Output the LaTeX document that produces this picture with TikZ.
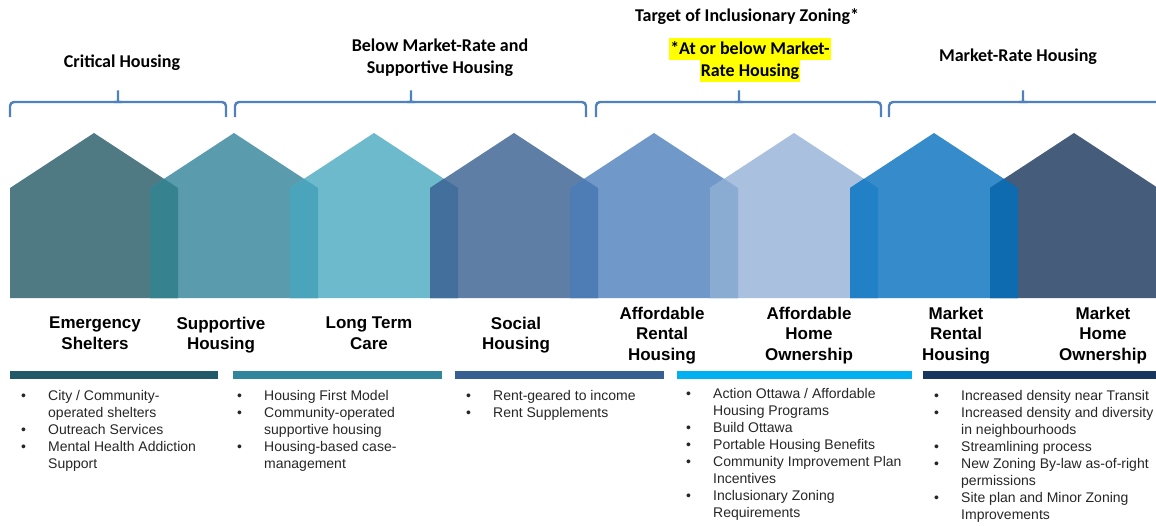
\documentclass[tikz,border=0pt]{standalone}
\usepackage{fontspec}
\setmainfont{Liberation Sans}
\newfontfamily\carlito{Carlito}
\usepackage{tikz}

\definecolor{braceblue}{HTML}{4F81BD}
\definecolor{hlyellow}{HTML}{FFFF00}
\definecolor{listgrey}{HTML}{262626}
\definecolor{houseA}{HTML}{4F7A84}
\definecolor{houseB}{HTML}{5A9BAE}
\definecolor{houseC}{HTML}{6EBACD}
\definecolor{houseD}{HTML}{5F7EA5}
\definecolor{houseE}{HTML}{7098C9}
\definecolor{houseF}{HTML}{A9C0DE}
\definecolor{houseG}{HTML}{368CCB}
\definecolor{houseH}{HTML}{455D7A}
\definecolor{overAB}{HTML}{37828F}
\definecolor{overBC}{HTML}{4AA4BB}
\definecolor{overCD}{HTML}{426F9B}
\definecolor{overDE}{HTML}{4E7DB6}
\definecolor{overEF}{HTML}{8AACD3}
\definecolor{overFG}{HTML}{2280C6}
\definecolor{overGH}{HTML}{0F6BAF}
\definecolor{barA}{HTML}{215968}
\definecolor{barB}{HTML}{31859C}
\definecolor{barC}{HTML}{376092}
\definecolor{barD}{HTML}{00B0F0}
\definecolor{barE}{HTML}{17375E}

\newcommand{\hilite}[1]{{\setlength{\fboxsep}{1pt}\colorbox{hlyellow}{\rule[-5pt]{0pt}{20pt}#1}}}

\begin{document}
\begin{tikzpicture}[x=1pt, y=-1pt,
    brace/.style={draw=braceblue, line width=2.4pt, rounded corners=4pt},
    group/.style={font=\carlito\bfseries\fontsize{18}{22}\selectfont, align=center, inner sep=0pt, anchor=north},
    kind/.style={font=\bfseries\fontsize{17}{20.5}\selectfont, align=center, inner sep=0pt, anchor=north},
    items/.style={font=\fontsize{14}{17}\selectfont, text=listgrey, inner sep=0pt, anchor=base west}]
    \useasboundingbox (0,0) rectangle (1156,525);

    % houses
    \fill[houseA] (10,298) -- (10,188) -- (94,133) -- (178,188) -- (178,298) -- cycle;
    \fill[houseB] (150,298) -- (150,188) -- (234,133) -- (318,188) -- (318,298) -- cycle;
    \fill[houseC] (290,298) -- (290,188) -- (374,133) -- (458,188) -- (458,298) -- cycle;
    \fill[houseD] (430,298) -- (430,188) -- (514,133) -- (598,188) -- (598,298) -- cycle;
    \fill[houseE] (570,298) -- (570,188) -- (654,133) -- (738,188) -- (738,298) -- cycle;
    \fill[houseF] (710,298) -- (710,188) -- (794,133) -- (878,188) -- (878,298) -- cycle;
    \fill[houseG] (850,298) -- (850,188) -- (934,133) -- (1018,188) -- (1018,298) -- cycle;
    \fill[houseH] (990,298) -- (990,188) -- (1074,133) -- (1158,188) -- (1158,298) -- cycle;
    % overlaps
    \fill[overAB] (150,298) -- (150,188) -- (164,178.8) -- (178,188) -- (178,298) -- cycle;
    \fill[overBC] (290,298) -- (290,188) -- (304,178.8) -- (318,188) -- (318,298) -- cycle;
    \fill[overCD] (430,298) -- (430,188) -- (444,178.8) -- (458,188) -- (458,298) -- cycle;
    \fill[overDE] (570,298) -- (570,188) -- (584,178.8) -- (598,188) -- (598,298) -- cycle;
    \fill[overEF] (710,298) -- (710,188) -- (724,178.8) -- (738,188) -- (738,298) -- cycle;
    \fill[overFG] (850,298) -- (850,188) -- (864,178.8) -- (878,188) -- (878,298) -- cycle;
    \fill[overGH] (990,298) -- (990,188) -- (1004,178.8) -- (1018,188) -- (1018,298) -- cycle;

    % braces
    \draw[brace] (10,117) -- (10,102) -- (226,102) -- (226,117);
    \draw[brace] (114,102) .. controls (118,102) .. (118,97) -- (118,88) -- (118,97) .. controls (118,102) .. (122,102);
    \draw[brace] (235,117) -- (235,102) -- (586,102) -- (586,117);
    \draw[brace] (407,102) .. controls (411,102) .. (411,97) -- (411,88) -- (411,97) .. controls (411,102) .. (415,102);
    \draw[brace] (596,117) -- (596,102) -- (881,102) -- (881,117);
    \draw[brace] (735,102) .. controls (739,102) .. (739,97) -- (739,88) -- (739,97) .. controls (739,102) .. (743,102);
    \draw[brace] (889,117) -- (889,102) -- (1170,102);
    \draw[brace] (1019,102) .. controls (1023,102) .. (1023,97) -- (1023,88) -- (1023,97) .. controls (1023,102) .. (1027,102);

    \node[group] (critical) at (122,54.6) {Critical Housing};
    \node[group] (belowmkt) at (440,38.6) {Below Market-Rate and\\Supportive Housing};
    \node[group] (target) at (747,8.6) {Target of Inclusionary Zoning*};
    \node[group] (atorbelow) at (750,38) {\hilite{*At or below Market-}\\\hilite{Rate Housing}};
    \node[group] (mktrate) at (1018,48.6) {Market-Rate Housing};

    \node[kind] (emerg) at (95,316.7) {Emergency\\Shelters};
    \node[kind] (supp) at (221,316.7) {Supportive\\Housing};
    \node[kind] (ltc) at (369,316.7) {Long Term\\Care};
    \node[kind] (social) at (516,316.7) {Social\\Housing};
    \node[kind] (affrent) at (662,306.7) {Affordable\\Rental\\Housing};
    \node[kind] (affown) at (809,306.7) {Affordable\\Home\\Ownership};
    \node[kind] (mktrent) at (956,306.7) {Market\\Rental\\Housing};
    \node[kind] (mktown) at (1103,306.7) {Market\\Home\\Ownership};

    % bars
    \fill[barA] (10,371) rectangle (218,379);
    \fill[barB] (233,371) rectangle (442,379);
    \fill[barC] (455,371) rectangle (664,379);
    \fill[barD] (677,371) rectangle (912,379);
    \fill[barE] (923,371) rectangle (1156,379);

    \node[items] (crititems) at (21,400) {\begin{tabular}[t]{@{}p{27pt}@{}l@{}}
        \textbullet & City / Community-\\ & operated shelters\\
        \textbullet & Outreach Services\\
        \textbullet & Mental Health Addiction\\ & Support
    \end{tabular}};
    \node[items] (suppitems) at (237,400) {\begin{tabular}[t]{@{}p{27pt}@{}l@{}}
        \textbullet & Housing First Model\\
        \textbullet & Community-operated\\ & supportive housing\\
        \textbullet & Housing-based case-\\ & management
    \end{tabular}};
    \node[items] (socitems) at (466,400) {\begin{tabular}[t]{@{}p{27pt}@{}l@{}}
        \textbullet & Rent-geared to income\\
        \textbullet & Rent Supplements
    \end{tabular}};
    \node[items] (affitems) at (686,398) {\begin{tabular}[t]{@{}p{27pt}@{}l@{}}
        \textbullet & Action Ottawa / Affordable\\ & Housing Programs\\
        \textbullet & Build Ottawa\\
        \textbullet & Portable Housing Benefits\\
        \textbullet & Community Improvement Plan\\ & Incentives\\
        \textbullet & Inclusionary Zoning\\ & Requirements
    \end{tabular}};
    \node[items] (mktitems) at (934,400) {\begin{tabular}[t]{@{}p{27pt}@{}l@{}}
        \textbullet & Increased density near Transit\\
        \textbullet & Increased density and diversity\\ & in neighbourhoods\\
        \textbullet & Streamlining process\\
        \textbullet & New Zoning By-law as-of-right\\ & permissions\\
        \textbullet & Site plan and Minor Zoning\\ & Improvements
    \end{tabular}};
\end{tikzpicture}
\end{document}
